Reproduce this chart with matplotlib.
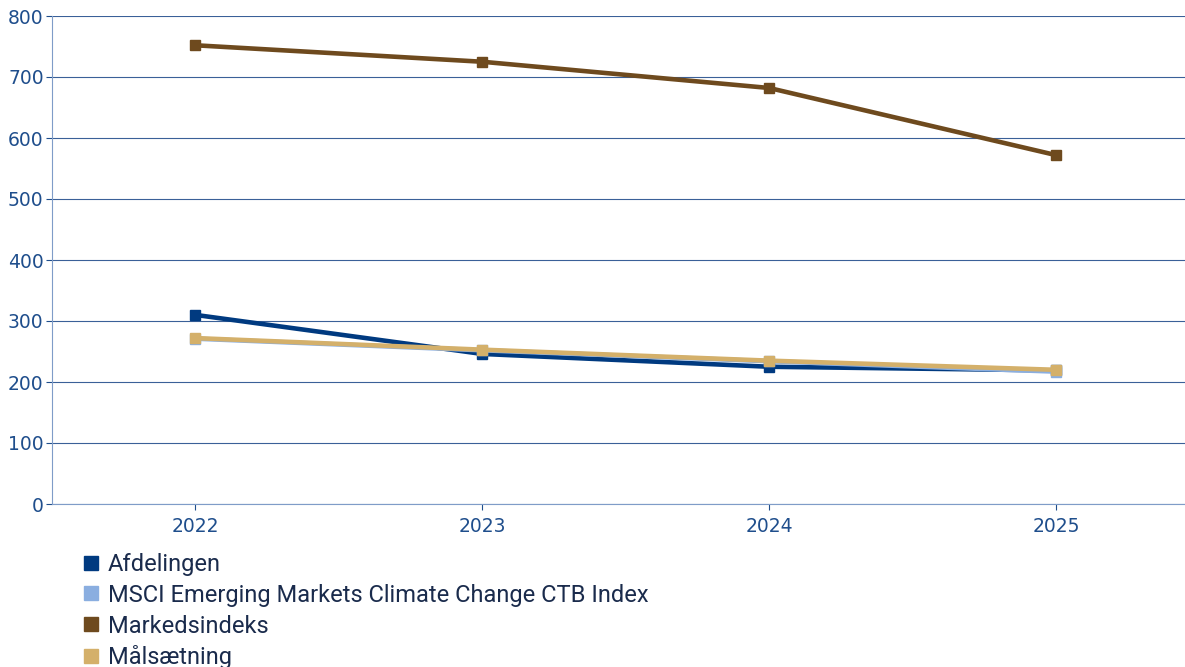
import matplotlib.pyplot as plt
from matplotlib.lines import Line2D

years = ["2022", "2023", "2024", "2025"]
afdelingen = [310, 246, 225, 219]
msci = [271, 252, 234, 217]
markedsindeks = [752, 725, 682, 572]
maalsaetning = [272, 253, 235, 220]

labels = ["Afdelingen", "MSCI Emerging Markets Climate Change CTB Index",
          "Markedsindeks", "Målsætning"]
colors = ["#003a80", "#8aaee0", "#6e4a1e", "#d4b06a"]
series = [afdelingen, msci, markedsindeks, maalsaetning]

axis_col = "#1f4e8c"
grid_col = "#3a6098"

fig = plt.figure(figsize=(11.85, 6.67), dpi=100)
ax = fig.add_axes([52 / 1185, 1 - 504 / 667, 1 - 52 / 1185, 488 / 667])

x = range(len(years))
for vals, col, lab, z in zip(series, colors, labels, [3, 4, 2, 5]):
    ax.plot(x, vals, color=col, lw=3.3, marker="s", ms=6.5, zorder=z, label=lab)

ax.set_ylim(0, 800)
ax.set_xlim(-0.5, 3.45)
ax.set_yticks(range(0, 801, 100))
ax.set_xticks(list(x))
ax.set_xticklabels(years)
ax.yaxis.grid(True, color=grid_col, lw=0.8)
ax.set_axisbelow(True)
for s in ["top", "right"]:
    ax.spines[s].set_visible(False)
ax.spines["left"].set_color("#7f9cc8")
ax.spines["bottom"].set_color("#7f9cc8")
ax.tick_params(colors=axis_col, labelsize=13.5, length=4, width=0.8)
ax.tick_params(axis="y", pad=2)
ax.tick_params(axis="x", pad=5)

# legend below the plot, one entry per row
handles = [Line2D([], [], ls="none", marker="s", ms=10, color=c) for c in colors]
leg = fig.legend(handles, labels, loc="upper left", bbox_to_anchor=(0.068, 0.171),
                 frameon=False, prop={"family": "Roboto", "size": 17.0},
                 labelspacing=0.33, handletextpad=0.25, handlelength=0.9,
                 borderpad=0, borderaxespad=0)
for t in leg.get_texts():
    t.set_color("#1a2b4c")

fig.savefig("out.png", dpi=100)
